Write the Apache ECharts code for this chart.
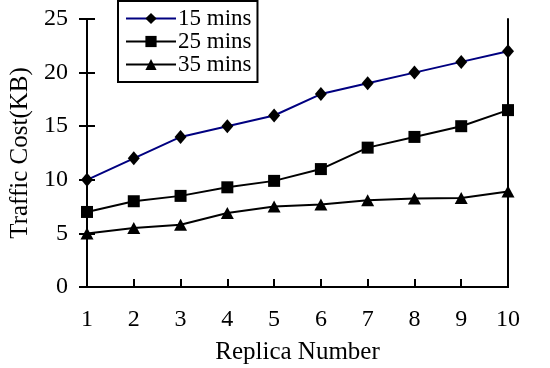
<!DOCTYPE html>
<html>
<head>
<meta charset="utf-8">
<script src="https://cdn.jsdelivr.net/npm/echarts@6/dist/echarts.min.js"></script>
<style>
  html, body { margin: 0; padding: 0; background: #fff; }
  #chart { width: 550px; height: 368px; }
</style>
</head>
<body>
<div id="chart"></div>
<script>
// data
const replicas = [1, 2, 3, 4, 5, 6, 7, 8, 9, 10];
const mins15 = [10, 12, 14, 15, 16, 18, 19, 20, 21, 22];
const mins25 = [7, 8, 8.5, 9.3, 9.9, 11, 13, 14, 15, 16.5];
const mins35 = [5, 5.5, 5.8, 6.9, 7.5, 7.7, 8.1, 8.25, 8.3, 8.9];

const font = 'Liberation Serif';
const pairs = (ys) => replicas.map((x, i) => [x, ys[i]]);

const chart = echarts.init(document.getElementById('chart'));

const lineAxis = { lineStyle: { color: '#000', width: 2 } };

chart.setOption({
  animation: false,
  textStyle: { fontFamily: font, color: '#000' },
  grid: { left: 87, right: 42, top: 19, bottom: 81, containLabel: false, outerBoundsMode: 'none' },
  legend: {
    orient: 'vertical',
    left: 118,
    top: 1,
    padding: [6, 6, 6, 7],
    itemGap: 0,
    itemWidth: 50,
    itemHeight: 14,
    backgroundColor: '#fff',
    borderColor: '#000',
    borderWidth: 2,
    textStyle: { fontFamily: font, fontSize: 23, lineHeight: 21, color: '#000', padding: [0, 0, 0, -3] },
    data: ['15 mins', '25 mins', '35 mins']
  },
  xAxis: [
    {
      type: 'value',
      min: 1,
      max: 10,
      interval: 1,
      name: 'Replica Number',
      nameLocation: 'center',
      nameGap: 53,
      nameTextStyle: { fontFamily: font, fontSize: 25, color: '#000' },
      axisLine: lineAxis,
      axisTick: { inside: true, length: 8, lineStyle: { color: '#000', width: 2 } },
      axisLabel: { fontFamily: font, fontSize: 24, color: '#000', margin: 21 },
      splitLine: { show: false }
    },
    {
      type: 'value',
      position: 'top',
      min: 1,
      max: 10,
      axisLine: lineAxis,
      axisTick: { show: false },
      axisLabel: { show: false },
      splitLine: { show: false }
    }
  ],
  yAxis: [
    {
      type: 'value',
      min: 0,
      max: 25,
      interval: 5,
      name: 'Traffic Cost(KB)',
      nameLocation: 'center',
      nameGap: 53,
      nameTextStyle: { fontFamily: font, fontSize: 25, color: '#000' },
      axisLine: { show: true, lineStyle: { color: '#000', width: 2 } },
      axisTick: { show: true, length: 8, lineStyle: { color: '#000', width: 2 } },
      axisLabel: { fontFamily: font, fontSize: 24, color: '#000', margin: 19 },
      splitLine: { show: false }
    },
    {
      type: 'value',
      position: 'left',
      min: 0,
      max: 25,
      interval: 5,
      axisLine: { show: false },
      axisTick: { show: true, inside: true, length: 8, lineStyle: { color: '#000', width: 2 } },
      axisLabel: { show: false },
      splitLine: { show: false }
    },
    {
      type: 'value',
      position: 'right',
      min: 0,
      max: 25,
      axisLine: { show: true, lineStyle: { color: '#000', width: 2 } },
      axisTick: { show: false },
      axisLabel: { show: false },
      splitLine: { show: false }
    }
  ],
  series: [
    {
      name: '15 mins',
      type: 'line',
      data: pairs(mins15),
      symbol: 'diamond',
      symbolSize: [12, 14],
      itemStyle: { color: '#000' },
      lineStyle: { color: '#000080', width: 2 },
      z: 5
    },
    {
      name: '25 mins',
      type: 'line',
      data: pairs(mins25),
      symbol: 'rect',
      symbolSize: 12,
      itemStyle: { color: '#000' },
      lineStyle: { color: '#000', width: 2 },
      z: 5
    },
    {
      name: '35 mins',
      type: 'line',
      data: pairs(mins35),
      symbol: 'triangle',
      symbolSize: [13, 12],
      itemStyle: { color: '#000' },
      lineStyle: { color: '#000', width: 2 },
      z: 5
    }
  ]
});
</script>
</body>
</html>
